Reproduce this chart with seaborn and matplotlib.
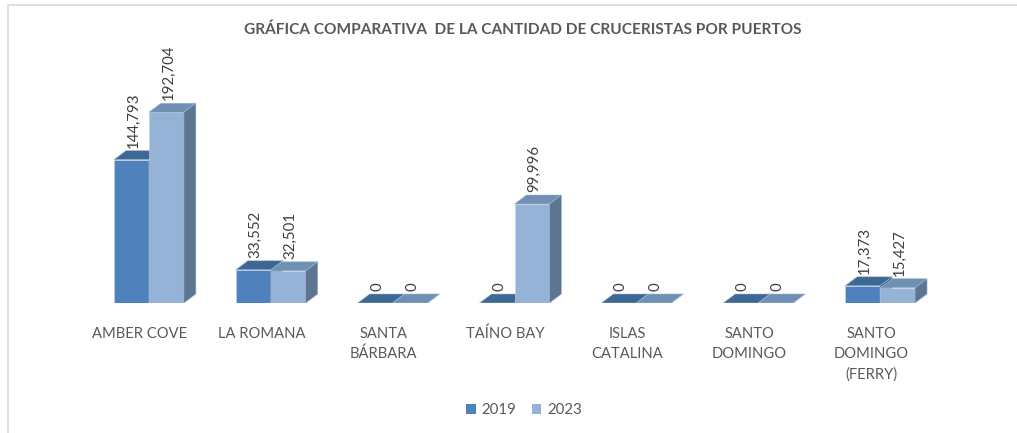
import numpy as np
import pandas as pd
import seaborn as sns
import matplotlib.pyplot as plt
import matplotlib.transforms as mtransforms
from matplotlib.patches import Polygon, Patch, Rectangle

ports = ["AMBER COVE", "LA ROMANA", "SANTA\nBÁRBARA", "TAÍNO BAY",
         "ISLAS\nCATALINA", "SANTO\nDOMINGO", "SANTO\nDOMINGO\n(FERRY)"]
years = ["2019", "2023"]
v2019 = [144793, 33552, 0, 0, 0, 0, 17373]
v2023 = [192704, 32501, 0, 99996, 0, 0, 15427]

front = {"2019": "#4F81BD", "2023": "#95B3D7"}
topc = {"2019": "#3C6893", "2023": "#7090B3"}
sidec = {"2019": "#33597F", "2023": "#5E7592"}

df = pd.DataFrame({
    "port": ports * 2,
    "year": ["2019"] * len(ports) + ["2023"] * len(ports),
    "value": v2019 + v2023,
})

W, H = 1017, 433
fig = plt.figure(figsize=(W / 100, H / 100), dpi=100)
sns.set_style("white")
plt.rcParams["font.family"] = ["Lato", "DejaVu Sans"]

# chart frame
fig.patches.append(Rectangle((8 / W, -0.1), 1.2, 1 - 4.5 / H + 0.1, transform=fig.transFigure,
                             fill=False, edgecolor="#D9D9D9", linewidth=1.2))

ax = fig.add_axes([88 / W, 1 - 303 / H, 853 / W, 258 / H])
sns.barplot(data=df, x="port", y="value", hue="year", palette=front,
            width=0.574, ax=ax, legend=False, saturation=1, zorder=2)

ymax = 260600
ax.set_xlim(-0.5, len(ports) - 0.5)
ax.set_ylim(0, ymax)

# 3d depth in pixels -> data units
dx = 12 / (853 / len(ports))
dy = 9 * ymax / 258

for i, (yr, cont) in enumerate(zip(years, ax.containers)):
    base_z = 2 + i
    for bar, val in zip(cont.patches, df[df.year == yr].value):
        x0 = bar.get_x()
        w = bar.get_width()
        h = bar.get_height()
        bar.set_zorder(base_z)
        bar.set_edgecolor("#C5D5EA")
        bar.set_linewidth(0.4)
        top = Polygon([(x0, h), (x0 + w, h), (x0 + w + dx, h + dy), (x0 + dx, h + dy)],
                      closed=True, facecolor=topc[yr], edgecolor="#9FB6D2", linewidth=0.4,
                      zorder=base_z + 0.1)
        side = Polygon([(x0 + w, 0), (x0 + w, h), (x0 + w + dx, h + dy), (x0 + w + dx, dy)],
                       closed=True, facecolor=sidec[yr], edgecolor="#9FB6D2", linewidth=0.4,
                       zorder=base_z + 0.1)
        ax.add_patch(top)
        ax.add_patch(side)
        ax.annotate(f"{val:,}", (x0 + w / 2, h), xytext=(2, 12), textcoords="offset pixels",
                    rotation=90, ha="center", va="bottom", fontsize=10.8, color="#404040")

sns.despine(ax=ax, left=True, bottom=True)
ax.set_yticks([])
ax.set_xlabel("")
ax.set_ylabel("")
ax.tick_params(axis="x", length=0, pad=17)
ax.set_xticks(range(len(ports)))
ax.set_xticklabels(ports, fontsize=10.6, color="#595959", linespacing=1.55, va="top")
shift = mtransforms.ScaledTranslation(-9 / 100, 0, fig.dpi_scale_trans)
for lab in ax.get_xticklabels():
    lab.set_transform(lab.get_transform() + shift)

fig.text(523 / W, 1 - 30 / H, "GRÁFICA COMPARATIVA  DE LA CANTIDAD DE CRUCERISTAS POR PUERTOS",
         ha="center", va="center", fontsize=11.1, fontweight="bold", color="#595959")

handles = [Patch(facecolor=front[y], edgecolor="none") for y in years]
fig.legend(handles, years, loc="center", bbox_to_anchor=(524 / W, 1 - 410 / H), ncol=2,
           frameon=False, handlelength=0.65, handleheight=0.65, handletextpad=0.4,
           columnspacing=1.0, fontsize=10.8, labelcolor="#595959")

fig.savefig("out.png", dpi=100)
